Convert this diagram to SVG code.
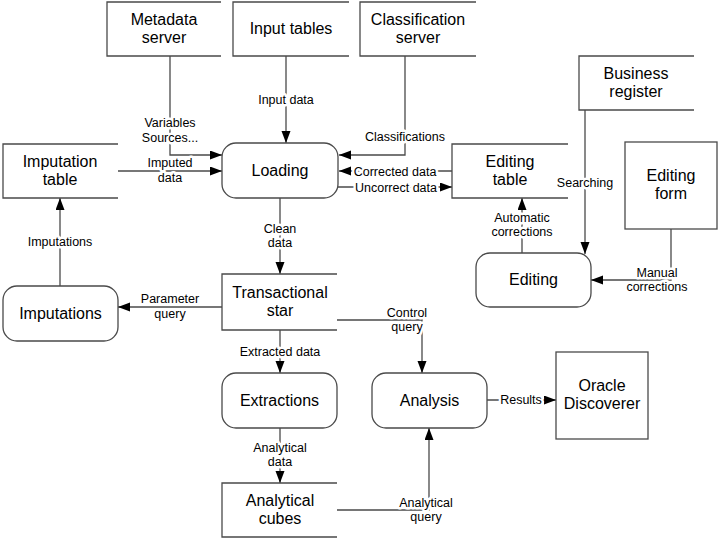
<svg xmlns="http://www.w3.org/2000/svg" width="720" height="540" viewBox="0 0 720 540">
<defs>
<marker id="arr" markerUnits="userSpaceOnUse" markerWidth="13" markerHeight="10" refX="12" refY="4.5" orient="auto">
<path d="M0,0 L12,4.5 L0,9 z" fill="#000"/>
</marker>
<style>
.box{fill:none;stroke:#4a4a4a;stroke-width:1.3}
.proc{fill:#fff;stroke:#4a4a4a;stroke-width:1.3}
.n{font-family:"Liberation Sans",Arial,sans-serif;font-size:16px;fill:#000;text-anchor:middle}
.l{font-family:"Liberation Sans",Arial,sans-serif;font-size:12.5px;fill:#000;text-anchor:middle;stroke:#fff;stroke-width:5;paint-order:stroke;stroke-linejoin:round}
.c{fill:none;stroke:#4a4a4a;stroke-width:1.3}
.a{marker-end:url(#arr)}
</style>
</defs>
<rect width="720" height="540" fill="#fff"/>
<g id="connectors">
<path class="c a" d="M170,56 V155 H222"/>
<path class="c a" d="M118,171 H222"/>
<path class="c a" d="M286,56 V143"/>
<path class="c a" d="M405,56 V155 H339"/>
<path class="c a" d="M452,171 H339"/>
<path class="c a" d="M337,187 H452"/>
<path class="c a" d="M280,198 V274"/>
<path class="c a" d="M60,286 V198"/>
<path class="c a" d="M222,307 H118"/>
<path class="c a" d="M280,330 V373"/>
<path class="c a" d="M337,320 H422 V373"/>
<path class="c a" d="M487,400 H556"/>
<path class="c a" d="M280,428 V483"/>
<path class="c a" d="M337,510 H429 V428"/>
<path class="c a" d="M522,253 V198"/>
<path class="c a" d="M585,110 V254"/>
<path class="c a" d="M671,229 V280 H591"/>
<text class="l" x="170" y="127">Variables</text>
<text class="l" x="170" y="142">Sources...</text>
<text class="l" x="170" y="167">Imputed</text>
<text class="l" x="170" y="182">data</text>
<text class="l" x="286" y="103.5">Input data</text>
<text class="l" x="405" y="141">Classifications</text>
<text class="l" x="395" y="175.5">Corrected data</text>
<text class="l" x="396" y="191.5">Uncorrect data</text>
<text class="l" x="280" y="233">Clean</text>
<text class="l" x="280" y="247">data</text>
<text class="l" x="60" y="246">Imputations</text>
<text class="l" x="170" y="303">Parameter</text>
<text class="l" x="170" y="318">query</text>
<text class="l" x="280" y="356">Extracted data</text>
<text class="l" x="407" y="317">Control</text>
<text class="l" x="407" y="331">query</text>
<text class="l" x="521" y="404">Results</text>
<text class="l" x="280" y="452">Analytical</text>
<text class="l" x="280" y="466">data</text>
<text class="l" x="426" y="507">Analytical</text>
<text class="l" x="426" y="521">query</text>
<text class="l" x="522" y="222">Automatic</text>
<text class="l" x="522" y="236">corrections</text>
<text class="l" x="585" y="187">Searching</text>
<text class="l" x="657" y="277">Manual</text>
<text class="l" x="657" y="291">corrections</text>
</g>
<g id="metadata-server">
<path class="box" d="M221,2 H107 V56 H221"/>
<text class="n" x="164" y="25">Metadata</text>
<text class="n" x="164" y="43">server</text>
</g>
<g id="input-tables">
<path class="box" d="M349,2 H233 V56 H349"/>
<text class="n" x="291" y="34">Input tables</text>
</g>
<g id="classification-server">
<path class="box" d="M476,2 H360 V56 H476"/>
<text class="n" x="418" y="25">Classification</text>
<text class="n" x="418" y="43">server</text>
</g>
<g id="business-register">
<path class="box" d="M694,56 H579 V110 H694"/>
<text class="n" x="636" y="79">Business</text>
<text class="n" x="636" y="97">register</text>
</g>
<g id="imputation-table">
<path class="box" d="M118,144 H3 V198 H118"/>
<text class="n" x="60" y="167">Imputation</text>
<text class="n" x="60" y="185">table</text>
</g>
<g id="loading">
<rect class="proc" x="222" y="143" width="116" height="55" rx="14"/>
<text class="n" x="280" y="176">Loading</text>
</g>
<g id="editing-table">
<path class="box" d="M568,144 H452 V198 H568"/>
<text class="n" x="510" y="167">Editing</text>
<text class="n" x="510" y="185">table</text>
</g>
<g id="editing-form">
<rect class="box" x="625" y="142" width="92" height="87"/>
<text class="n" x="671" y="181">Editing</text>
<text class="n" x="671" y="199">form</text>
</g>
<g id="editing">
<rect class="proc" x="476" y="253" width="115" height="54" rx="14"/>
<text class="n" x="533.5" y="285">Editing</text>
</g>
<g id="transactional-star">
<path class="box" d="M337,274 H222 V330 H337"/>
<text class="n" x="280" y="298">Transactional</text>
<text class="n" x="280" y="316">star</text>
</g>
<g id="imputations">
<rect class="proc" x="3" y="286" width="115" height="55" rx="14"/>
<text class="n" x="60.5" y="319">Imputations</text>
</g>
<g id="extractions">
<rect class="proc" x="222" y="373" width="115" height="55" rx="14"/>
<text class="n" x="279.5" y="406">Extractions</text>
</g>
<g id="analysis">
<rect class="proc" x="372" y="373" width="115" height="55" rx="14"/>
<text class="n" x="429.5" y="406">Analysis</text>
</g>
<g id="oracle-discoverer">
<rect class="box" x="556" y="352" width="92" height="87"/>
<text class="n" x="602" y="391">Oracle</text>
<text class="n" x="602" y="409">Discoverer</text>
</g>
<g id="analytical-cubes">
<path class="box" d="M337,483 H222 V537 H337"/>
<text class="n" x="280" y="506">Analytical</text>
<text class="n" x="280" y="524">cubes</text>
</g>
</svg>
